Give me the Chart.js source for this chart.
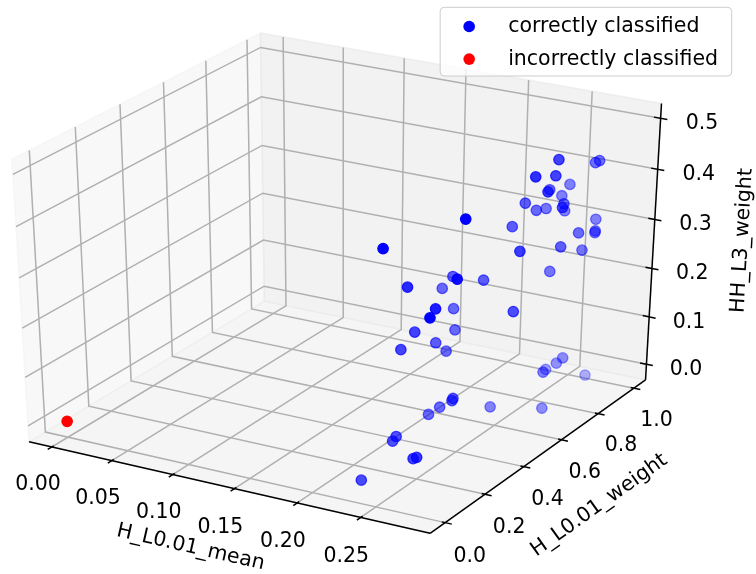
<!DOCTYPE html>
<html lang="en">
<head>
<meta charset="utf-8">
<title>Classification results</title>
<script src="https://cdn.jsdelivr.net/npm/chart.js@4.4.1/dist/chart.umd.min.js"></script>
<style>
  html, body { margin: 0; padding: 0; background: #ffffff; }
  .chart-box { position: relative; width: 756px; height: 574px; }
</style>
</head>
<body>
<div class="chart-box"><canvas id="graphClassif" width="756" height="574"></canvas></div>
<script>
// ===============================
//  Data : one entry per sample
// ===============================
const correctMean = [0.278, 0.271, 0.273, 0.281, 0.280, 0.250, 0.255, 0.282, 0.248, 0.267,
  0.282, 0.253, 0.252, 0.252, 0.249, 0.280, 0.250, 0.274, 0.282, 0.282,
  0.281, 0.240, 0.281, 0.282, 0.281, 0.267, 0.227, 0.281, 0.246, 0.237,
  0.215, 0.267, 0.283, 0.227, 0.282, 0.235, 0.233, 0.233, 0.231, 0.233,
  0.281, 0.276, 0.265, 0.281, 0.279, 0.257, 0.257, 0.243, 0.257, 0.281,
  0.238, 0.241, 0.240, 0.275, 0.269, 0.236];
const correctWeight = [0.705, 0.953, 0.961, 0.566, 0.678, 0.966, 0.822, 0.626, 0.938, 0.818,
  0.706, 0.922, 0.715, 0.775, 0.848, 0.226, 0.664, 0.948, 0.799, 0.891,
  0.896, 0.088, 0.497, 0.705, 0.829, 0.756, 0.516, 0.184, 0.549, 0.226,
  0.541, 0.172, 0.042, 0.523, 0.466, 0.277, 0.493, 0.396, 0.235, 0.450,
  0.748, 0.749, 0.768, 0.643, 0.892, 0.328, 0.333, 0.357, 0.528, 0.644,
  0.333, 0.153, 0.142, 0.039, 0.060, 0.015];
const correctHH = [0.489, 0.424, 0.427, 0.489, 0.465, 0.368, 0.393, 0.447, 0.351, 0.372,
  0.398, 0.327, 0.390, 0.362, 0.347, 0.488, 0.355, 0.314, 0.326, 0.308,
  0.303, 0.446, 0.362, 0.321, 0.284, 0.252, 0.281, 0.385, 0.275, 0.337,
  0.245, 0.324, 0.348, 0.215, 0.252, 0.235, 0.183, 0.182, 0.209, 0.151,
  0.085, 0.071, 0.047, 0.083, 0.010, 0.096, 0.099, 0.067, 0.029, 0.008,
  0.056, 0.062, 0.055, 0.071, 0.059, 0.009];

const wrongMean = [0.0];
const wrongWeight = [0.0];
const wrongHH = [0.0];

// ticks and view limits of the three axes
const meanTicks = [0.0, 0.05, 0.1, 0.15, 0.2, 0.25];
const weightTicks = [0.0, 0.2, 0.4, 0.6, 0.8, 1.0];
const hhTicks = [0.0, 0.1, 0.2, 0.3, 0.4, 0.5];
const meanLim = [-0.0126, 0.2973];
const weightLim = [-0.051, 1.0436];
const hhLim = [-0.0221, 0.5176];

// ===============================
//  Perspective projection (elev 30, azim -60)
// ===============================
const ELEV = 30, AZIM = -60, DIST = 10;
const BOX0 = -1 / 48, BOX1 = 1 + 1 / 48; // panes stick out a little past the limits

const rEl = ELEV * Math.PI / 180;
const rAz = AZIM * Math.PI / 180;
const eyeN = [Math.cos(rAz) * Math.cos(rEl), Math.sin(rAz) * Math.cos(rEl), Math.sin(rEl)];
const lenU = Math.hypot(eyeN[0], eyeN[1]);
const eyeU = [-eyeN[1] / lenU, eyeN[0] / lenU, 0];
const eyeV = [
  eyeN[1] * eyeU[2] - eyeN[2] * eyeU[1],
  eyeN[2] * eyeU[0] - eyeN[0] * eyeU[2],
  eyeN[0] * eyeU[1] - eyeN[1] * eyeU[0],
];

function dot(a, b) {
  return a[0] * b[0] + a[1] * b[1] + a[2] * b[2];
}

// nx, ny, nz in box units (0..1 between the limits)
function project(nx, ny, nz) {
  const d = [nx - 0.5, ny - 0.5, nz - 0.5];
  const w = DIST - dot(eyeN, d);
  return { x: dot(eyeU, d) / w, y: dot(eyeV, d) / w, depth: -DIST / w };
}

function norm(v, lim) {
  return (v - lim[0]) / (lim[1] - lim[0]);
}

function buildPoints(xs, ys, zs) {
  return xs
    .map((xv, i) => project(norm(xv, meanLim), norm(ys[i], weightLim), norm(zs[i], hhLim)))
    .sort((a, b) => b.depth - a.depth); // far points first
}

// fade far points like depthshade does
function depthColors(points, rgb) {
  const ds = points.map((p) => p.depth);
  const lo = Math.min(...ds);
  const hi = Math.max(...ds);
  return points.map((p) => {
    const t = hi > lo ? (p.depth - lo) / (hi - lo) : 0;
    return "rgba(" + rgb + "," + (1 - 0.7 * t).toFixed(3) + ")";
  });
}

const correctPts = buildPoints(correctMean, correctWeight, correctHH);
const wrongPts = buildPoints(wrongMean, wrongWeight, wrongHH);
const correctColors = depthColors(correctPts, "0,0,255");
const wrongColors = depthColors(wrongPts, "255,0,0");

const FONT = '20.5px "DejaVu Sans", sans-serif';

// ===============================
//  Panes, grid, axes and labels
// ===============================
const axes3d = {
  id: "axes3d",
  beforeDatasetsDraw(chart) {
    const g = chart.ctx;
    const sx = chart.scales.x;
    const sy = chart.scales.y;
    const pix = (p3) => {
      const p = project(p3[0], p3[1], p3[2]);
      return [sx.getPixelForValue(p.x), sy.getPixelForValue(p.y)];
    };
    const path = (pts, close) => {
      g.beginPath();
      pts.map(pix).forEach((q, i) => (i ? g.lineTo(q[0], q[1]) : g.moveTo(q[0], q[1])));
      if (close) g.closePath();
    };
    const text = (str, p3, angle) => {
      const q = pix(p3);
      g.save();
      g.translate(q[0], q[1]);
      if (angle) g.rotate(angle);
      g.fillText(str, 0, 0);
      g.restore();
    };
    const edgeAngle = (a, b) => {
      const pa = pix(a), pb = pix(b);
      let ang = Math.atan2(pb[1] - pa[1], pb[0] - pa[0]);
      if (ang > Math.PI / 2) ang -= Math.PI;
      if (ang < -Math.PI / 2) ang += Math.PI;
      return ang;
    };

    g.save();

    // panes : left (x), back (y), floor (z)
    const panes = [
      { color: "rgba(242,242,242,0.5)", pts: [[BOX0, BOX0, BOX0], [BOX0, BOX1, BOX0], [BOX0, BOX1, BOX1], [BOX0, BOX0, BOX1]] },
      { color: "rgba(230,230,230,0.5)", pts: [[BOX0, BOX1, BOX0], [BOX1, BOX1, BOX0], [BOX1, BOX1, BOX1], [BOX0, BOX1, BOX1]] },
      { color: "rgba(236,236,236,0.5)", pts: [[BOX0, BOX0, BOX0], [BOX1, BOX0, BOX0], [BOX1, BOX1, BOX0], [BOX0, BOX1, BOX0]] },
    ];
    panes.forEach((pane) => {
      path(pane.pts, true);
      g.fillStyle = pane.color;
      g.fill();
      g.strokeStyle = pane.color;
      g.lineWidth = 1.5;
      g.stroke();
    });

    // grid lines through the back corner
    g.strokeStyle = "#b0b0b0";
    g.lineWidth = 1.5;
    meanTicks.forEach((t) => {
      const n = norm(t, meanLim);
      path([[n, BOX1, BOX1], [n, BOX1, BOX0], [n, BOX0, BOX0]]);
      g.stroke();
    });
    weightTicks.forEach((t) => {
      const n = norm(t, weightLim);
      path([[BOX0, n, BOX1], [BOX0, n, BOX0], [BOX1, n, BOX0]]);
      g.stroke();
    });
    hhTicks.forEach((t) => {
      const n = norm(t, hhLim);
      path([[BOX1, BOX1, n], [BOX0, BOX1, n], [BOX0, BOX0, n]]);
      g.stroke();
    });

    // axis lines
    g.strokeStyle = "#000000";
    g.lineWidth = 1.5;
    path([[BOX0, BOX0, BOX0], [BOX1, BOX0, BOX0]]);
    g.stroke();
    path([[BOX1, BOX0, BOX0], [BOX1, BOX1, BOX0]]);
    g.stroke();
    path([[BOX1, BOX1, BOX0], [BOX1, BOX1, BOX1]]);
    g.stroke();

    // tick marks
    const tOut = 1 / 60, tIn = 1 / 120;
    meanTicks.forEach((t) => {
      const n = norm(t, meanLim);
      path([[n, BOX0 - tOut, BOX0], [n, BOX0 + tIn, BOX0]]);
      g.stroke();
    });
    weightTicks.forEach((t) => {
      const n = norm(t, weightLim);
      path([[BOX1 + tOut, n, BOX0], [BOX1 - tIn, n, BOX0]]);
      g.stroke();
    });
    hhTicks.forEach((t) => {
      const n = norm(t, hhLim);
      path([[BOX1 + tOut, BOX1, n], [BOX1 - tOut, BOX1, n]]);
      g.stroke();
    });

    // tick labels
    g.fillStyle = "#000000";
    g.font = FONT;
    g.textAlign = "center";
    g.textBaseline = "middle";
    meanTicks.forEach((t) => text(t.toFixed(2), [norm(t, meanLim), BOX0 - 0.063, BOX0 - 0.112]));
    weightTicks.forEach((t) => text(t.toFixed(1), [BOX1 + 0.063, norm(t, weightLim), BOX0 - 0.107]));
    hhTicks.forEach((t) => text(t.toFixed(1), [BOX1 + 0.096, BOX1 + 0.014, norm(t, hhLim)]));

    // axis titles, turned along their edge
    text("H_L0.01_mean", [0.5, BOX0 - 0.15, BOX0 - 0.145],
      edgeAngle([BOX0, BOX0, BOX0], [BOX1, BOX0, BOX0]));
    text("H_L0.01_weight", [BOX1 + 0.15, 0.5, BOX0 - 0.151],
      edgeAngle([BOX1, BOX0, BOX0], [BOX1, BOX1, BOX0]));
    text("HH_L3_weight", [BOX1 + 0.172, BOX1 + 0.109, 0.513],
      edgeAngle([BOX1, BOX1, BOX0], [BOX1, BOX1, BOX1]));

    g.restore();
  },
};

// ===============================
//  Legend box (top right)
// ===============================
const legendBox = {
  id: "legendBox",
  afterDraw(chart) {
    const g = chart.ctx;
    const area = chart.chartArea;
    const sets = chart.data.datasets;
    g.save();
    g.font = FONT;
    const textW = Math.max(...sets.map((s) => g.measureText(s.label).width));
    const w = 68 + textW + 13.6;
    const h = 68.7;
    const right = area.right - 24.3;
    const left = right - w;
    const top = area.top + 7.3;

    g.beginPath();
    g.roundRect(left, top, w, h, 4);
    g.fillStyle = "rgba(255,255,255,0.8)";
    g.fill();
    g.strokeStyle = "#cccccc";
    g.lineWidth = 1;
    g.stroke();

    sets.forEach((s, i) => {
      const rowY = top + 25 + i * 32.6;
      g.beginPath();
      g.arc(left + 29, rowY - 5.8, 5.8, 0, Math.PI * 2);
      g.fillStyle = s.legendColor;
      g.fill();
      g.fillStyle = "#000000";
      g.textAlign = "left";
      g.textBaseline = "alphabetic";
      g.fillText(s.label, left + 68, rowY);
    });
    g.restore();
  },
};

// ===============================
//  Chart
// ===============================
const ctx = document.getElementById("graphClassif");
new Chart(ctx, {
  type: "scatter",
  data: {
    datasets: [
      {
        label: "correctly classified",
        legendColor: "#0000ff",
        data: correctPts,
        pointRadius: 5.2,
        pointHoverRadius: 5.2,
        pointBorderWidth: 1.3,
        pointBackgroundColor: correctColors,
        pointBorderColor: correctColors,
        clip: false,
      },
      {
        label: "incorrectly classified",
        legendColor: "#ff0000",
        data: wrongPts,
        pointRadius: 5.2,
        pointHoverRadius: 5.2,
        pointBorderWidth: 1.3,
        pointBackgroundColor: wrongColors,
        pointBorderColor: wrongColors,
        clip: false,
      },
    ],
  },
  options: {
    responsive: false,
    animation: false,
    events: [],
    layout: { padding: 0, autoPadding: false },
    scales: {
      x: { type: "linear", display: false, bounds: "data", min: -0.077009, max: 0.093098 },
      y: { type: "linear", display: false, bounds: "data", min: -0.096801, max: 0.088564 },
    },
    plugins: {
      legend: { display: false },
      tooltip: { enabled: false },
    },
  },
  plugins: [axes3d, legendBox],
});
</script>
</body>
</html>
